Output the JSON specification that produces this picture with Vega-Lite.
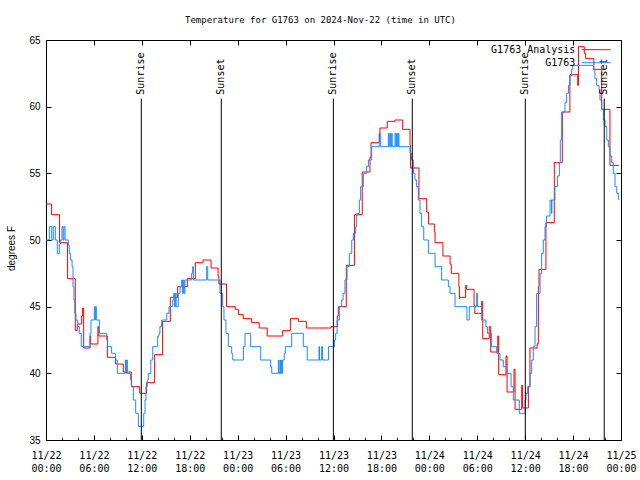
{
  "$schema": "https://vega.github.io/schema/vega-lite/v6.json",
  "width": 575,
  "height": 400,
  "autosize": {"type": "none"},
  "padding": {"left": 46, "top": 40, "right": 19, "bottom": 40},
  "background": "white",
  "title": {"text": "Temperature for G1763 on 2024-Nov-22 (time in UTC)", "font": "DejaVu Sans Mono", "fontSize": 9, "fontWeight": "normal", "color": "black", "anchor": "middle", "frame": "group", "dx": -13, "offset": 10},
  "config": {
    "view": {"stroke": "black", "strokeWidth": 1},
    "axis": {"grid": false, "domain": false, "tickColor": "black", "labelColor": "black", "titleColor": "black"}
  },
  "datasets": {
    "obs": [
      {"s": "G1763 Analysis", "t": "2024-11-22T00:00Z", "v": 52.7},
      {"s": "G1763 Analysis", "t": "2024-11-22T00:42Z", "v": 51.9},
      {"s": "G1763 Analysis", "t": "2024-11-22T01:42Z", "v": 49.8},
      {"s": "G1763 Analysis", "t": "2024-11-22T02:42Z", "v": 47.1},
      {"s": "G1763 Analysis", "t": "2024-11-22T03:40Z", "v": 43.2},
      {"s": "G1763 Analysis", "t": "2024-11-22T03:55Z", "v": 43.7},
      {"s": "G1763 Analysis", "t": "2024-11-22T04:28Z", "v": 44.3},
      {"s": "G1763 Analysis", "t": "2024-11-22T04:35Z", "v": 44.9},
      {"s": "G1763 Analysis", "t": "2024-11-22T04:43Z", "v": 41.9},
      {"s": "G1763 Analysis", "t": "2024-11-22T05:31Z", "v": 42.8},
      {"s": "G1763 Analysis", "t": "2024-11-22T05:36Z", "v": 42.2},
      {"s": "G1763 Analysis", "t": "2024-11-22T06:30Z", "v": 43.5},
      {"s": "G1763 Analysis", "t": "2024-11-22T06:37Z", "v": 42.8},
      {"s": "G1763 Analysis", "t": "2024-11-22T07:41Z", "v": 41.2},
      {"s": "G1763 Analysis", "t": "2024-11-22T08:43Z", "v": 40.7},
      {"s": "G1763 Analysis", "t": "2024-11-22T09:41Z", "v": 40.1},
      {"s": "G1763 Analysis", "t": "2024-11-22T10:41Z", "v": 39.0},
      {"s": "G1763 Analysis", "t": "2024-11-22T11:44Z", "v": 38.5},
      {"s": "G1763 Analysis", "t": "2024-11-22T12:36Z", "v": 39.3},
      {"s": "G1763 Analysis", "t": "2024-11-22T13:36Z", "v": 41.4},
      {"s": "G1763 Analysis", "t": "2024-11-22T14:36Z", "v": 43.9},
      {"s": "G1763 Analysis", "t": "2024-11-22T15:34Z", "v": 45.7},
      {"s": "G1763 Analysis", "t": "2024-11-22T16:29Z", "v": 46.5},
      {"s": "G1763 Analysis", "t": "2024-11-22T17:42Z", "v": 47.1},
      {"s": "G1763 Analysis", "t": "2024-11-22T18:42Z", "v": 48.3},
      {"s": "G1763 Analysis", "t": "2024-11-22T19:40Z", "v": 48.5},
      {"s": "G1763 Analysis", "t": "2024-11-22T20:40Z", "v": 47.9},
      {"s": "G1763 Analysis", "t": "2024-11-22T21:33Z", "v": 47.3},
      {"s": "G1763 Analysis", "t": "2024-11-22T21:39Z", "v": 46.7},
      {"s": "G1763 Analysis", "t": "2024-11-22T22:36Z", "v": 45.0},
      {"s": "G1763 Analysis", "t": "2024-11-22T23:42Z", "v": 44.8},
      {"s": "G1763 Analysis", "t": "2024-11-23T00:06Z", "v": 44.4},
      {"s": "G1763 Analysis", "t": "2024-11-23T00:42Z", "v": 44.1},
      {"s": "G1763 Analysis", "t": "2024-11-23T01:45Z", "v": 43.8},
      {"s": "G1763 Analysis", "t": "2024-11-23T02:42Z", "v": 43.4},
      {"s": "G1763 Analysis", "t": "2024-11-23T03:42Z", "v": 42.8},
      {"s": "G1763 Analysis", "t": "2024-11-23T05:38Z", "v": 43.2},
      {"s": "G1763 Analysis", "t": "2024-11-23T06:36Z", "v": 44.1},
      {"s": "G1763 Analysis", "t": "2024-11-23T07:36Z", "v": 43.9},
      {"s": "G1763 Analysis", "t": "2024-11-23T08:36Z", "v": 43.4},
      {"s": "G1763 Analysis", "t": "2024-11-23T11:42Z", "v": 43.5},
      {"s": "G1763 Analysis", "t": "2024-11-23T12:29Z", "v": 44.3},
      {"s": "G1763 Analysis", "t": "2024-11-23T12:36Z", "v": 45.0},
      {"s": "G1763 Analysis", "t": "2024-11-23T13:36Z", "v": 48.1},
      {"s": "G1763 Analysis", "t": "2024-11-23T14:37Z", "v": 51.9},
      {"s": "G1763 Analysis", "t": "2024-11-23T15:36Z", "v": 55.1},
      {"s": "G1763 Analysis", "t": "2024-11-23T16:34Z", "v": 56.2},
      {"s": "G1763 Analysis", "t": "2024-11-23T16:42Z", "v": 57.3},
      {"s": "G1763 Analysis", "t": "2024-11-23T17:44Z", "v": 58.0},
      {"s": "G1763 Analysis", "t": "2024-11-23T17:49Z", "v": 58.4},
      {"s": "G1763 Analysis", "t": "2024-11-23T18:44Z", "v": 58.9},
      {"s": "G1763 Analysis", "t": "2024-11-23T19:42Z", "v": 59.0},
      {"s": "G1763 Analysis", "t": "2024-11-23T20:40Z", "v": 58.3},
      {"s": "G1763 Analysis", "t": "2024-11-23T21:35Z", "v": 57.1},
      {"s": "G1763 Analysis", "t": "2024-11-23T21:39Z", "v": 55.4},
      {"s": "G1763 Analysis", "t": "2024-11-23T22:42Z", "v": 53.1},
      {"s": "G1763 Analysis", "t": "2024-11-23T23:40Z", "v": 52.1},
      {"s": "G1763 Analysis", "t": "2024-11-23T23:54Z", "v": 51.2},
      {"s": "G1763 Analysis", "t": "2024-11-24T00:38Z", "v": 50.6},
      {"s": "G1763 Analysis", "t": "2024-11-24T00:43Z", "v": 49.8},
      {"s": "G1763 Analysis", "t": "2024-11-24T01:42Z", "v": 48.8},
      {"s": "G1763 Analysis", "t": "2024-11-24T02:36Z", "v": 48.2},
      {"s": "G1763 Analysis", "t": "2024-11-24T02:45Z", "v": 47.5},
      {"s": "G1763 Analysis", "t": "2024-11-24T03:42Z", "v": 46.5},
      {"s": "G1763 Analysis", "t": "2024-11-24T03:46Z", "v": 45.6},
      {"s": "G1763 Analysis", "t": "2024-11-24T03:48Z", "v": 45.7},
      {"s": "G1763 Analysis", "t": "2024-11-24T04:33Z", "v": 46.6},
      {"s": "G1763 Analysis", "t": "2024-11-24T04:41Z", "v": 46.3},
      {"s": "G1763 Analysis", "t": "2024-11-24T05:36Z", "v": 45.1},
      {"s": "G1763 Analysis", "t": "2024-11-24T05:42Z", "v": 44.5},
      {"s": "G1763 Analysis", "t": "2024-11-24T06:33Z", "v": 45.4},
      {"s": "G1763 Analysis", "t": "2024-11-24T06:41Z", "v": 42.6},
      {"s": "G1763 Analysis", "t": "2024-11-24T07:30Z", "v": 43.5},
      {"s": "G1763 Analysis", "t": "2024-11-24T07:41Z", "v": 41.6},
      {"s": "G1763 Analysis", "t": "2024-11-24T08:34Z", "v": 42.8},
      {"s": "G1763 Analysis", "t": "2024-11-24T08:41Z", "v": 39.9},
      {"s": "G1763 Analysis", "t": "2024-11-24T09:36Z", "v": 41.3},
      {"s": "G1763 Analysis", "t": "2024-11-24T09:44Z", "v": 38.6},
      {"s": "G1763 Analysis", "t": "2024-11-24T10:36Z", "v": 40.3},
      {"s": "G1763 Analysis", "t": "2024-11-24T10:44Z", "v": 37.3},
      {"s": "G1763 Analysis", "t": "2024-11-24T11:34Z", "v": 39.1},
      {"s": "G1763 Analysis", "t": "2024-11-24T11:41Z", "v": 37.4},
      {"s": "G1763 Analysis", "t": "2024-11-24T12:24Z", "v": 39.0},
      {"s": "G1763 Analysis", "t": "2024-11-24T12:36Z", "v": 41.9},
      {"s": "G1763 Analysis", "t": "2024-11-24T13:30Z", "v": 42.2},
      {"s": "G1763 Analysis", "t": "2024-11-24T13:39Z", "v": 46.5},
      {"s": "G1763 Analysis", "t": "2024-11-24T13:44Z", "v": 47.8},
      {"s": "G1763 Analysis", "t": "2024-11-24T14:36Z", "v": 51.3},
      {"s": "G1763 Analysis", "t": "2024-11-24T15:39Z", "v": 55.8},
      {"s": "G1763 Analysis", "t": "2024-11-24T16:39Z", "v": 59.6},
      {"s": "G1763 Analysis", "t": "2024-11-24T17:36Z", "v": 62.4},
      {"s": "G1763 Analysis", "t": "2024-11-24T18:35Z", "v": 61.6},
      {"s": "G1763 Analysis", "t": "2024-11-24T18:40Z", "v": 64.5},
      {"s": "G1763 Analysis", "t": "2024-11-24T19:24Z", "v": 64.0},
      {"s": "G1763 Analysis", "t": "2024-11-24T19:35Z", "v": 63.6},
      {"s": "G1763 Analysis", "t": "2024-11-24T20:36Z", "v": 62.8},
      {"s": "G1763 Analysis", "t": "2024-11-24T21:35Z", "v": 59.8},
      {"s": "G1763 Analysis", "t": "2024-11-24T22:37Z", "v": 55.6},
      {"s": "G1763 Analysis", "t": "2024-11-24T23:45Z", "v": 55.6},
      {"s": "G1763", "t": "2024-11-22T00:00Z", "v": 50},
      {"s": "G1763", "t": "2024-11-22T00:25Z", "v": 51},
      {"s": "G1763", "t": "2024-11-22T00:43Z", "v": 50},
      {"s": "G1763", "t": "2024-11-22T00:55Z", "v": 51},
      {"s": "G1763", "t": "2024-11-22T01:10Z", "v": 50},
      {"s": "G1763", "t": "2024-11-22T01:25Z", "v": 49},
      {"s": "G1763", "t": "2024-11-22T01:40Z", "v": 49.7},
      {"s": "G1763", "t": "2024-11-22T01:50Z", "v": 50},
      {"s": "G1763", "t": "2024-11-22T02:00Z", "v": 51},
      {"s": "G1763", "t": "2024-11-22T02:08Z", "v": 50},
      {"s": "G1763", "t": "2024-11-22T02:15Z", "v": 51},
      {"s": "G1763", "t": "2024-11-22T02:23Z", "v": 50},
      {"s": "G1763", "t": "2024-11-22T02:48Z", "v": 49.6},
      {"s": "G1763", "t": "2024-11-22T02:55Z", "v": 49},
      {"s": "G1763", "t": "2024-11-22T03:05Z", "v": 48.5},
      {"s": "G1763", "t": "2024-11-22T03:16Z", "v": 48},
      {"s": "G1763", "t": "2024-11-22T03:23Z", "v": 46.5},
      {"s": "G1763", "t": "2024-11-22T03:30Z", "v": 45.5},
      {"s": "G1763", "t": "2024-11-22T03:36Z", "v": 44.5},
      {"s": "G1763", "t": "2024-11-22T03:45Z", "v": 44},
      {"s": "G1763", "t": "2024-11-22T03:58Z", "v": 43.5},
      {"s": "G1763", "t": "2024-11-22T04:10Z", "v": 43},
      {"s": "G1763", "t": "2024-11-22T04:25Z", "v": 42},
      {"s": "G1763", "t": "2024-11-22T05:31Z", "v": 43},
      {"s": "G1763", "t": "2024-11-22T05:38Z", "v": 44},
      {"s": "G1763", "t": "2024-11-22T06:03Z", "v": 45},
      {"s": "G1763", "t": "2024-11-22T06:09Z", "v": 44},
      {"s": "G1763", "t": "2024-11-22T06:13Z", "v": 45},
      {"s": "G1763", "t": "2024-11-22T06:18Z", "v": 44},
      {"s": "G1763", "t": "2024-11-22T06:41Z", "v": 43},
      {"s": "G1763", "t": "2024-11-22T07:36Z", "v": 42.5},
      {"s": "G1763", "t": "2024-11-22T07:43Z", "v": 42},
      {"s": "G1763", "t": "2024-11-22T08:13Z", "v": 41.5},
      {"s": "G1763", "t": "2024-11-22T08:43Z", "v": 41},
      {"s": "G1763", "t": "2024-11-22T08:56Z", "v": 40},
      {"s": "G1763", "t": "2024-11-22T09:57Z", "v": 41},
      {"s": "G1763", "t": "2024-11-22T10:03Z", "v": 40},
      {"s": "G1763", "t": "2024-11-22T10:07Z", "v": 41},
      {"s": "G1763", "t": "2024-11-22T10:11Z", "v": 40},
      {"s": "G1763", "t": "2024-11-22T10:36Z", "v": 39.5},
      {"s": "G1763", "t": "2024-11-22T10:44Z", "v": 39},
      {"s": "G1763", "t": "2024-11-22T10:56Z", "v": 38},
      {"s": "G1763", "t": "2024-11-22T11:14Z", "v": 37},
      {"s": "G1763", "t": "2024-11-22T11:34Z", "v": 36},
      {"s": "G1763", "t": "2024-11-22T12:14Z", "v": 37},
      {"s": "G1763", "t": "2024-11-22T12:24Z", "v": 38},
      {"s": "G1763", "t": "2024-11-22T12:31Z", "v": 39},
      {"s": "G1763", "t": "2024-11-22T12:41Z", "v": 39.5},
      {"s": "G1763", "t": "2024-11-22T12:49Z", "v": 40},
      {"s": "G1763", "t": "2024-11-22T13:07Z", "v": 41},
      {"s": "G1763", "t": "2024-11-22T13:22Z", "v": 42},
      {"s": "G1763", "t": "2024-11-22T13:59Z", "v": 42.8},
      {"s": "G1763", "t": "2024-11-22T14:09Z", "v": 43},
      {"s": "G1763", "t": "2024-11-22T14:16Z", "v": 43.5},
      {"s": "G1763", "t": "2024-11-22T14:29Z", "v": 44},
      {"s": "G1763", "t": "2024-11-22T15:07Z", "v": 44.5},
      {"s": "G1763", "t": "2024-11-22T15:24Z", "v": 45},
      {"s": "G1763", "t": "2024-11-22T15:52Z", "v": 45.5},
      {"s": "G1763", "t": "2024-11-22T16:00Z", "v": 46},
      {"s": "G1763", "t": "2024-11-22T16:06Z", "v": 45},
      {"s": "G1763", "t": "2024-11-22T16:12Z", "v": 46},
      {"s": "G1763", "t": "2024-11-22T16:18Z", "v": 45},
      {"s": "G1763", "t": "2024-11-22T16:34Z", "v": 46},
      {"s": "G1763", "t": "2024-11-22T16:47Z", "v": 46.5},
      {"s": "G1763", "t": "2024-11-22T16:59Z", "v": 47},
      {"s": "G1763", "t": "2024-11-22T17:06Z", "v": 46},
      {"s": "G1763", "t": "2024-11-22T17:12Z", "v": 47},
      {"s": "G1763", "t": "2024-11-22T17:18Z", "v": 46},
      {"s": "G1763", "t": "2024-11-22T17:24Z", "v": 47},
      {"s": "G1763", "t": "2024-11-22T18:14Z", "v": 47.5},
      {"s": "G1763", "t": "2024-11-22T18:22Z", "v": 48},
      {"s": "G1763", "t": "2024-11-22T18:27Z", "v": 47},
      {"s": "G1763", "t": "2024-11-22T20:07Z", "v": 48},
      {"s": "G1763", "t": "2024-11-22T20:15Z", "v": 47},
      {"s": "G1763", "t": "2024-11-22T21:47Z", "v": 46},
      {"s": "G1763", "t": "2024-11-22T22:07Z", "v": 45},
      {"s": "G1763", "t": "2024-11-22T22:17Z", "v": 44},
      {"s": "G1763", "t": "2024-11-22T22:32Z", "v": 43},
      {"s": "G1763", "t": "2024-11-22T22:50Z", "v": 42},
      {"s": "G1763", "t": "2024-11-22T23:15Z", "v": 41.5},
      {"s": "G1763", "t": "2024-11-22T23:23Z", "v": 41},
      {"s": "G1763", "t": "2024-11-23T00:43Z", "v": 42},
      {"s": "G1763", "t": "2024-11-23T00:55Z", "v": 43},
      {"s": "G1763", "t": "2024-11-23T01:38Z", "v": 42},
      {"s": "G1763", "t": "2024-11-23T02:53Z", "v": 41},
      {"s": "G1763", "t": "2024-11-23T04:08Z", "v": 40.5},
      {"s": "G1763", "t": "2024-11-23T04:16Z", "v": 40},
      {"s": "G1763", "t": "2024-11-23T05:06Z", "v": 41},
      {"s": "G1763", "t": "2024-11-23T05:09Z", "v": 40},
      {"s": "G1763", "t": "2024-11-23T05:18Z", "v": 41},
      {"s": "G1763", "t": "2024-11-23T05:21Z", "v": 40},
      {"s": "G1763", "t": "2024-11-23T05:30Z", "v": 41},
      {"s": "G1763", "t": "2024-11-23T05:33Z", "v": 40},
      {"s": "G1763", "t": "2024-11-23T05:38Z", "v": 41},
      {"s": "G1763", "t": "2024-11-23T05:50Z", "v": 41.5},
      {"s": "G1763", "t": "2024-11-23T05:58Z", "v": 42},
      {"s": "G1763", "t": "2024-11-23T06:46Z", "v": 43},
      {"s": "G1763", "t": "2024-11-23T08:13Z", "v": 42},
      {"s": "G1763", "t": "2024-11-23T08:43Z", "v": 41},
      {"s": "G1763", "t": "2024-11-23T10:11Z", "v": 42},
      {"s": "G1763", "t": "2024-11-23T10:15Z", "v": 41},
      {"s": "G1763", "t": "2024-11-23T10:31Z", "v": 42},
      {"s": "G1763", "t": "2024-11-23T10:38Z", "v": 41},
      {"s": "G1763", "t": "2024-11-23T11:22Z", "v": 42},
      {"s": "G1763", "t": "2024-11-23T12:07Z", "v": 42.5},
      {"s": "G1763", "t": "2024-11-23T12:16Z", "v": 43},
      {"s": "G1763", "t": "2024-11-23T12:27Z", "v": 44},
      {"s": "G1763", "t": "2024-11-23T12:44Z", "v": 45},
      {"s": "G1763", "t": "2024-11-23T13:01Z", "v": 45.5},
      {"s": "G1763", "t": "2024-11-23T13:12Z", "v": 46},
      {"s": "G1763", "t": "2024-11-23T13:26Z", "v": 47},
      {"s": "G1763", "t": "2024-11-23T13:42Z", "v": 48},
      {"s": "G1763", "t": "2024-11-23T13:59Z", "v": 49},
      {"s": "G1763", "t": "2024-11-23T14:17Z", "v": 50},
      {"s": "G1763", "t": "2024-11-23T14:29Z", "v": 50.5},
      {"s": "G1763", "t": "2024-11-23T14:47Z", "v": 51},
      {"s": "G1763", "t": "2024-11-23T14:54Z", "v": 52},
      {"s": "G1763", "t": "2024-11-23T15:14Z", "v": 53},
      {"s": "G1763", "t": "2024-11-23T15:24Z", "v": 54},
      {"s": "G1763", "t": "2024-11-23T15:44Z", "v": 55},
      {"s": "G1763", "t": "2024-11-23T16:09Z", "v": 55.5},
      {"s": "G1763", "t": "2024-11-23T16:22Z", "v": 56},
      {"s": "G1763", "t": "2024-11-23T16:47Z", "v": 57},
      {"s": "G1763", "t": "2024-11-23T17:44Z", "v": 58},
      {"s": "G1763", "t": "2024-11-23T17:54Z", "v": 57},
      {"s": "G1763", "t": "2024-11-23T18:52Z", "v": 58},
      {"s": "G1763", "t": "2024-11-23T18:57Z", "v": 57},
      {"s": "G1763", "t": "2024-11-23T19:03Z", "v": 58},
      {"s": "G1763", "t": "2024-11-23T19:09Z", "v": 57},
      {"s": "G1763", "t": "2024-11-23T19:17Z", "v": 58},
      {"s": "G1763", "t": "2024-11-23T19:21Z", "v": 57},
      {"s": "G1763", "t": "2024-11-23T19:42Z", "v": 58},
      {"s": "G1763", "t": "2024-11-23T19:48Z", "v": 57},
      {"s": "G1763", "t": "2024-11-23T19:54Z", "v": 58},
      {"s": "G1763", "t": "2024-11-23T20:00Z", "v": 57},
      {"s": "G1763", "t": "2024-11-23T20:07Z", "v": 58},
      {"s": "G1763", "t": "2024-11-23T20:12Z", "v": 57},
      {"s": "G1763", "t": "2024-11-23T21:35Z", "v": 56.5},
      {"s": "G1763", "t": "2024-11-23T21:47Z", "v": 56},
      {"s": "G1763", "t": "2024-11-23T22:00Z", "v": 55},
      {"s": "G1763", "t": "2024-11-23T22:12Z", "v": 54.5},
      {"s": "G1763", "t": "2024-11-23T22:25Z", "v": 54},
      {"s": "G1763", "t": "2024-11-23T22:37Z", "v": 53},
      {"s": "G1763", "t": "2024-11-23T22:50Z", "v": 52},
      {"s": "G1763", "t": "2024-11-23T23:02Z", "v": 51},
      {"s": "G1763", "t": "2024-11-23T23:18Z", "v": 50},
      {"s": "G1763", "t": "2024-11-23T23:53Z", "v": 49},
      {"s": "G1763", "t": "2024-11-24T00:43Z", "v": 48},
      {"s": "G1763", "t": "2024-11-24T01:32Z", "v": 47},
      {"s": "G1763", "t": "2024-11-24T02:23Z", "v": 46.5},
      {"s": "G1763", "t": "2024-11-24T02:35Z", "v": 46},
      {"s": "G1763", "t": "2024-11-24T03:13Z", "v": 45},
      {"s": "G1763", "t": "2024-11-24T04:42Z", "v": 44},
      {"s": "G1763", "t": "2024-11-24T05:00Z", "v": 45},
      {"s": "G1763", "t": "2024-11-24T05:56Z", "v": 46},
      {"s": "G1763", "t": "2024-11-24T06:01Z", "v": 45},
      {"s": "G1763", "t": "2024-11-24T06:33Z", "v": 44},
      {"s": "G1763", "t": "2024-11-24T07:05Z", "v": 43.5},
      {"s": "G1763", "t": "2024-11-24T07:16Z", "v": 43},
      {"s": "G1763", "t": "2024-11-24T07:48Z", "v": 42},
      {"s": "G1763", "t": "2024-11-24T08:26Z", "v": 41.5},
      {"s": "G1763", "t": "2024-11-24T08:51Z", "v": 41},
      {"s": "G1763", "t": "2024-11-24T09:16Z", "v": 40.5},
      {"s": "G1763", "t": "2024-11-24T09:41Z", "v": 40},
      {"s": "G1763", "t": "2024-11-24T10:14Z", "v": 39},
      {"s": "G1763", "t": "2024-11-24T10:31Z", "v": 38},
      {"s": "G1763", "t": "2024-11-24T11:16Z", "v": 37},
      {"s": "G1763", "t": "2024-11-24T11:59Z", "v": 38},
      {"s": "G1763", "t": "2024-11-24T12:06Z", "v": 38.5},
      {"s": "G1763", "t": "2024-11-24T12:19Z", "v": 39},
      {"s": "G1763", "t": "2024-11-24T12:36Z", "v": 40},
      {"s": "G1763", "t": "2024-11-24T12:49Z", "v": 41},
      {"s": "G1763", "t": "2024-11-24T13:01Z", "v": 42},
      {"s": "G1763", "t": "2024-11-24T13:14Z", "v": 43.5},
      {"s": "G1763", "t": "2024-11-24T13:26Z", "v": 46},
      {"s": "G1763", "t": "2024-11-24T13:52Z", "v": 47.5},
      {"s": "G1763", "t": "2024-11-24T14:04Z", "v": 49},
      {"s": "G1763", "t": "2024-11-24T14:16Z", "v": 50},
      {"s": "G1763", "t": "2024-11-24T14:29Z", "v": 51},
      {"s": "G1763", "t": "2024-11-24T14:41Z", "v": 51.8},
      {"s": "G1763", "t": "2024-11-24T15:07Z", "v": 53},
      {"s": "G1763", "t": "2024-11-24T15:18Z", "v": 52},
      {"s": "G1763", "t": "2024-11-24T15:21Z", "v": 53},
      {"s": "G1763", "t": "2024-11-24T15:44Z", "v": 54},
      {"s": "G1763", "t": "2024-11-24T16:02Z", "v": 54.8},
      {"s": "G1763", "t": "2024-11-24T16:17Z", "v": 55.8},
      {"s": "G1763", "t": "2024-11-24T16:24Z", "v": 57.5},
      {"s": "G1763", "t": "2024-11-24T16:34Z", "v": 59.6},
      {"s": "G1763", "t": "2024-11-24T16:59Z", "v": 60.3},
      {"s": "G1763", "t": "2024-11-24T17:12Z", "v": 61},
      {"s": "G1763", "t": "2024-11-24T17:25Z", "v": 61.6},
      {"s": "G1763", "t": "2024-11-24T17:37Z", "v": 62.3},
      {"s": "G1763", "t": "2024-11-24T17:49Z", "v": 62.8},
      {"s": "G1763", "t": "2024-11-24T17:57Z", "v": 63.1},
      {"s": "G1763", "t": "2024-11-24T20:32Z", "v": 62.8},
      {"s": "G1763", "t": "2024-11-24T20:44Z", "v": 62.1},
      {"s": "G1763", "t": "2024-11-24T20:57Z", "v": 61.6},
      {"s": "G1763", "t": "2024-11-24T21:15Z", "v": 61.3},
      {"s": "G1763", "t": "2024-11-24T21:22Z", "v": 60.5},
      {"s": "G1763", "t": "2024-11-24T21:35Z", "v": 59.8},
      {"s": "G1763", "t": "2024-11-24T21:47Z", "v": 59},
      {"s": "G1763", "t": "2024-11-24T22:00Z", "v": 58.5},
      {"s": "G1763", "t": "2024-11-24T22:13Z", "v": 57.5},
      {"s": "G1763", "t": "2024-11-24T22:25Z", "v": 57},
      {"s": "G1763", "t": "2024-11-24T22:38Z", "v": 56.3},
      {"s": "G1763", "t": "2024-11-24T22:50Z", "v": 55.8},
      {"s": "G1763", "t": "2024-11-24T23:02Z", "v": 55},
      {"s": "G1763", "t": "2024-11-24T23:15Z", "v": 54},
      {"s": "G1763", "t": "2024-11-24T23:28Z", "v": 53.5},
      {"s": "G1763", "t": "2024-11-24T23:40Z", "v": 53.1},
      {"s": "G1763", "t": "2024-11-24T23:45Z", "v": 53}
    ],
    "sun": [
      {"t": "2024-11-22T11:56Z", "label": "Sunrise"},
      {"t": "2024-11-22T21:57Z", "label": "Sunset"},
      {"t": "2024-11-23T11:59Z", "label": "Sunrise"},
      {"t": "2024-11-23T21:52Z", "label": "Sunset"},
      {"t": "2024-11-24T12:01Z", "label": "Sunrise"},
      {"t": "2024-11-24T21:54Z", "label": "Sunset"}
    ]
  },
  "layer": [
    {
      "data": {"name": "obs"},
      "mark": {"type": "line", "interpolate": "step-after", "strokeWidth": 1},
      "encoding": {
        "x": {"field": "t", "type": "temporal",
          "scale": {"type": "utc", "domain": [1732233600000, 1732492800000]},
          "axis": {"orient": "bottom", "title": null, "values": [1732233600000, 1732255200000, 1732276800000, 1732298400000, 1732320000000, 1732341600000, 1732363200000, 1732384800000, 1732406400000, 1732428000000, 1732449600000, 1732471200000, 1732492800000], "tickSize": -5, "labelPadding": 15, "labelFont": "DejaVu Sans Mono", "labelFontSize": 10, "labelLineHeight": 13, "labelBaseline": "top", "labelExpr": "[utcFormat(datum.value, '%m/%d'), utcFormat(datum.value, '%H:%M')]", "labelOverlap": false, "labelFlush": false}},
        "y": {"field": "v", "type": "quantitative",
          "scale": {"domain": [35, 65], "nice": false, "zero": false},
          "axis": {"orient": "left", "title": "degrees F", "values": [35, 40, 45, 50, 55, 60, 65], "tickSize": -5, "labelPadding": 11, "labelFont": "Liberation Sans", "labelFontSize": 10, "titleFont": "Liberation Sans", "titleFontSize": 10, "titleFontWeight": "normal", "titleX": -35, "titleY": 208, "titleBaseline": "middle"}},
        "color": {"field": "s", "type": "nominal",
          "scale": {"domain": ["G1763 Analysis", "G1763"], "range": ["#ff0000", "#1a8cff"]},
          "legend": {"title": null, "orient": "none", "legendX": 543.7, "legendY": 3.2, "padding": 0, "rowPadding": 1, "symbolType": "M-2.5,0H2.5", "symbolSize": 134, "symbolStrokeWidth": 1, "labelAlign": "right", "labelOffset": -27.3, "labelFont": "DejaVu Sans Mono", "labelFontSize": 10, "labelColor": "black"}}
      }
    },
    {
      "data": {"name": "sun"},
      "mark": {"type": "rule", "color": "black", "strokeWidth": 1},
      "encoding": {
        "x": {"field": "t", "type": "temporal", "axis": {"orient": "top", "title": null, "labels": false, "values": [1732233600000, 1732255200000, 1732276800000, 1732298400000, 1732320000000, 1732341600000, 1732363200000, 1732384800000, 1732406400000, 1732428000000, 1732449600000, 1732471200000, 1732492800000], "tickSize": -5}},
        "y": {"datum": 35, "type": "quantitative", "axis": {"orient": "right", "title": null, "labels": false, "values": [35, 40, 45, 50, 55, 60, 65], "tickSize": -5}},
        "y2": {"datum": 60.6}
      }
    },
    {
      "data": {"name": "sun"},
      "mark": {"type": "text", "angle": 270, "align": "left", "baseline": "middle", "font": "DejaVu Sans Mono", "fontSize": 10, "color": "black"},
      "encoding": {
        "x": {"field": "t", "type": "temporal", "axis": {"orient": "bottom", "title": null, "labels": false, "values": [1732233600000, 1732240800000, 1732248000000, 1732255200000, 1732262400000, 1732269600000, 1732276800000, 1732284000000, 1732291200000, 1732298400000, 1732305600000, 1732312800000, 1732320000000, 1732327200000, 1732334400000, 1732341600000, 1732348800000, 1732356000000, 1732363200000, 1732370400000, 1732377600000, 1732384800000, 1732392000000, 1732399200000, 1732406400000, 1732413600000, 1732420800000, 1732428000000, 1732435200000, 1732442400000, 1732449600000, 1732456800000, 1732464000000, 1732471200000, 1732478400000, 1732485600000, 1732492800000], "tickSize": -2.5}},
        "y": {"datum": 60.9, "type": "quantitative", "axis": null},
        "text": {"field": "label"}
      }
    }
  ],
  "resolve": {"axis": {"x": "independent", "y": "independent"}}
}
